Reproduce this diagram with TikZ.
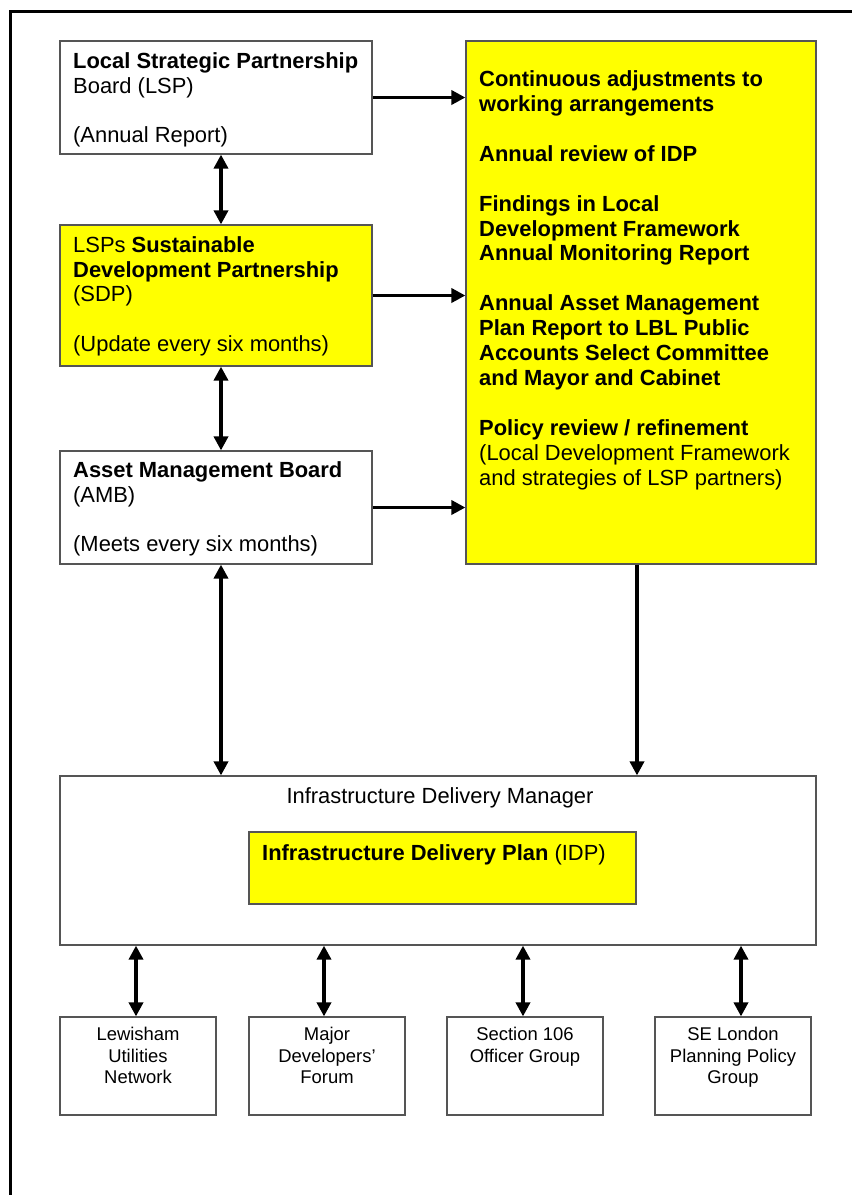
\documentclass[tikz,border=0pt]{standalone}
\usepackage{fontspec}
\setmainfont{Liberation Sans}
\usetikzlibrary{arrows.meta}
\definecolor{planyellow}{RGB}{255,255,0}
\definecolor{edgegrey}{RGB}{85,85,85}

\begin{document}
\begin{tikzpicture}[x=1bp,y=-1bp,
  plainbox/.style={draw=edgegrey,line width=1.2bp,fill=white,inner sep=0pt},
  yellowbox/.style={plainbox,fill=planyellow},
  boxtext/.style={inner sep=0pt,align=left,font=\fontsize{22}{25}\selectfont},
  smalltext/.style={inner sep=0pt,align=center,font=\fontsize{18.5}{21.5}\selectfont},
  link/.style={line width=3.8bp,-{Triangle[length=14bp,width=14bp]}},
  twoway/.style={line width=3.8bp,{Triangle[length=14bp,width=14bp]}-{Triangle[length=14bp,width=14bp]}}]
  \useasboundingbox[fill=white] (0,0) rectangle (852,1195);
  \draw[line width=3bp] (852,11) -- (10,11) -- (10,1195);
  \node[plainbox,minimum width=312bp,minimum height=113bp] (lsp) at (216,97.5) {};
  \node[yellowbox,minimum width=312bp,minimum height=141bp] (sdp) at (216,295.5) {};
  \node[plainbox,minimum width=312bp,minimum height=113bp] (amb) at (216,507.5) {};
  \node[yellowbox,minimum width=350bp,minimum height=523bp] (review) at (641,302.5) {};
  \node[plainbox,minimum width=756bp,minimum height=169bp] (idm) at (438,860.5) {};
  \node[yellowbox,minimum width=387bp,minimum height=72bp] (idp) at (442.5,868) {};
  \node[plainbox,minimum width=156bp,minimum height=98bp] (lun) at (138,1066) {};
  \node[plainbox,minimum width=156bp,minimum height=98bp] (mdf) at (327,1066) {};
  \node[plainbox,minimum width=156bp,minimum height=98bp] (sec) at (525,1066) {};
  \node[plainbox,minimum width=156bp,minimum height=98bp] (sel) at (733,1066) {};
  \node[boxtext,anchor=north west] (lsptext) at (73,50.5)
    {\strut\textbf{Local Strategic Partnership}\\Board (LSP)\\[25pt](Annual Report)};
  \node[boxtext,anchor=north west] (sdptext) at (73,234.5)
    {\strut LSPs \textbf{Sustainable}\\\textbf{Development Partnership}\\(SDP)\\[25pt](Update every six months)};
  \node[boxtext,anchor=north west] (ambtext) at (73,459.5)
    {\strut\textbf{Asset Management Board}\\(AMB)\\[25pt](Meets every six months)};
  \node[boxtext,anchor=north west,font=\fontsize{22}{25}\selectfont\bfseries] (reviewtext) at (479,69)
    {\strut Continuous adjustments to\\working arrangements\\[25pt]
     Annual review of IDP\\[25pt]
     Findings in Local\\Development Framework\\Annual Monitoring Report\\[25pt]
     Annual Asset Management\\Plan Report to LBL Public\\Accounts Select Committee\\and Mayor and Cabinet\\[25pt]
     Policy review / refinement\\\mdseries(Local Development Framework\\\mdseries and strategies of LSP partners)};
  \node[boxtext,anchor=base] (idmtext) at (440,803) {Infrastructure Delivery Manager};
  \node[boxtext,anchor=base west] (idptext) at (262,860) {\textbf{Infrastructure Delivery Plan} (IDP)};
  \node[smalltext,below=9bp] (luntext) at (lun.north) {\strut Lewisham\\Utilities\\Network};
  \node[smalltext,below=9bp] (mdftext) at (mdf.north) {\strut Major\\Developers'\\Forum};
  \node[smalltext,below=9bp] (sectext) at (sec.north) {\strut Section 106\\Officer Group};
  \node[smalltext,below=9bp] (seltext) at (sel.north) {\strut SE London\\Planning Policy\\Group};
  \coordinate (leftcol) at (221,0);
  \coordinate (rightcol) at (637,0);
  \draw[link] (lsp.east) -- (lsp.east -| review.west);
  \draw[link] (sdp.east) -- (sdp.east -| review.west);
  \draw[link] (amb.east) -- (amb.east -| review.west);
  \draw[twoway] (lsp.south -| leftcol) -- (sdp.north -| leftcol);
  \draw[twoway] (sdp.south -| leftcol) -- (amb.north -| leftcol);
  \draw[twoway] (amb.south -| leftcol) -- (idm.north -| leftcol);
  \draw[link] (review.south -| rightcol) -- (idm.north -| rightcol);
  \foreach \b/\x in {lun/136,mdf/324,sec/523,sel/741}{
    \coordinate (c\b) at (\x,0);
    \draw[twoway] (idm.south -| c\b) -- (\b.north -| c\b);
  }
\end{tikzpicture}
\end{document}
